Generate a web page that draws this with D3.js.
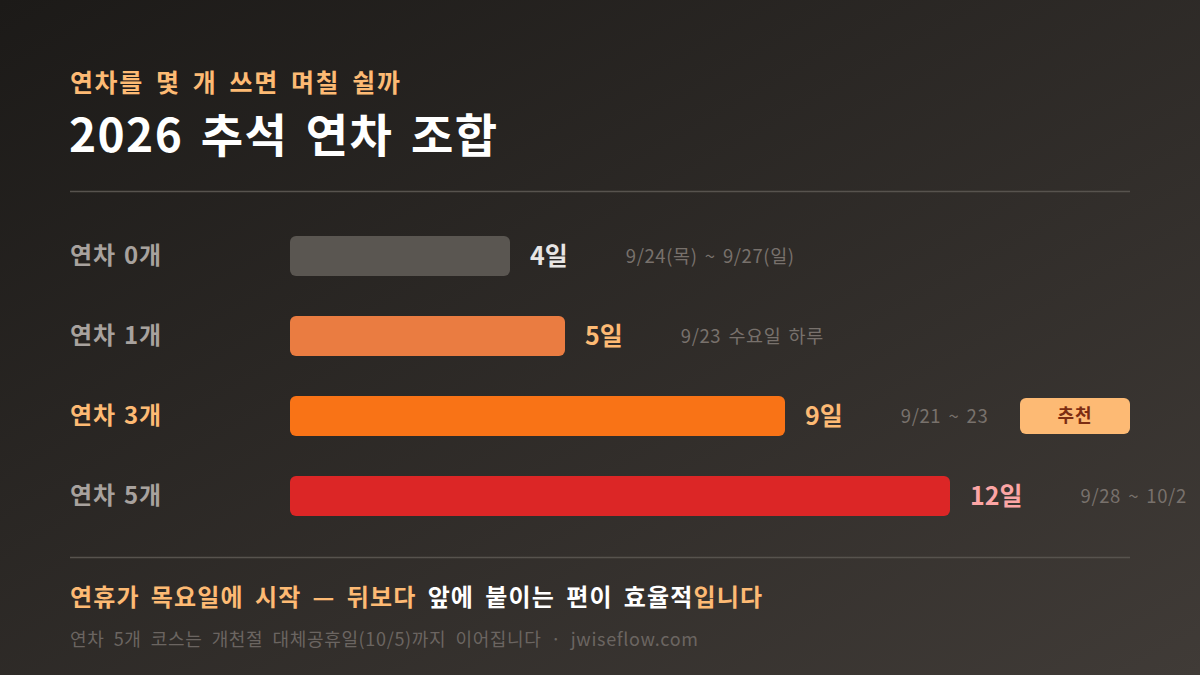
<!DOCTYPE html>
<html><head><meta charset="utf-8">
<script src="https://cdn.jsdelivr.net/npm/d3@7"></script>
<style>
html,body{margin:0;padding:0;background:#1c1917;}
svg{display:block;font-family:"Noto Sans CJK KR","Noto Sans",sans-serif;}
</style></head>
<body><svg id="c" width="1200" height="675"></svg>
<script>
const categories = ["연차 0개","연차 1개","연차 3개","연차 5개"];
const days = [4,5,9,12];
const valueLabels = ["4일","5일","9일","12일"];
const notes = ["9/24(목) ~ 9/27(일)","9/23 수요일 하루","9/21 ~ 23","9/28 ~ 10/2"];
const recommended = [false,false,true,false];
const barColors = ["#5a5651","#ea7c41","#f97316","#dc2626"];
const catColors = ["#a8a29e","#a8a29e","#fdba74","#a8a29e"];
const valueColors = ["#e7e5e4","#fdba74","#fdba74","#fca5a5"];

const svg = d3.select("#c");
const W=1200,H=675;
const defs = svg.append("defs");
const g = defs.append("linearGradient").attr("id","bg").attr("x1","0").attr("y1","0").attr("x2","1").attr("y2","1");
g.append("stop").attr("offset","0").attr("stop-color","#1c1a18");
g.append("stop").attr("offset","1").attr("stop-color","#403b37");
svg.append("rect").attr("width",W).attr("height",H).attr("fill","url(#bg)");

// spread extra width half over letters, half over word gaps
function fit(sel, target){
  const node = sel.node();
  const w = node.getComputedTextLength();
  const txt = node.textContent;
  const n = (txt.match(/ /g)||[]).length;
  const chars = txt.length - 1;
  const extra = target - w;
  const ls = (extra*0.5)/chars;
  const ws = n>0 ? (extra*0.5)/n : 0;
  sel.attr("letter-spacing", ls.toFixed(2)).attr("word-spacing", ws.toFixed(2));
  return sel;
}

fit(svg.append("text").attr("x",70).attr("y",92).attr("fill","#fdba74").attr("font-size",25).attr("font-weight",700)
  .text("연차를 몇 개 쓰면 며칠 쉴까"), 330);
fit(svg.append("text").attr("x",69).attr("y",152).attr("fill","#ffffff").attr("font-size",46).attr("font-weight",700)
  .text("2026 추석 연차 조합"), 428);
svg.append("line").attr("x1",70).attr("x2",1130).attr("y1",191.5).attr("y2",191.5).attr("stroke","#57534e").attr("stroke-width",1.5);
svg.append("line").attr("x1",70).attr("x2",1130).attr("y1",557.5).attr("y2",557.5).attr("stroke","#57534e").attr("stroke-width",1.5);

const x = d3.scaleLinear().domain([0,12]).range([290,950]);
const y = d3.scaleBand().domain(categories).range([216,536]).paddingInner(0.5).paddingOuter(0.25);

const rows = svg.selectAll("g.row").data(categories).join("g").attr("class","row");
rows.append("text").attr("x",70).attr("y",c=>y(c)+y.bandwidth()/2+8)
  .attr("fill",(c,i)=>catColors[i]).attr("font-size",24).attr("font-weight",700)
  .attr("letter-spacing",0.8).attr("word-spacing",2).text(c=>c);
rows.append("rect").attr("x",x(0)).attr("y",c=>y(c)).attr("height",y.bandwidth())
  .attr("width",(c,i)=>x(days[i])-x(0)).attr("rx",6).attr("fill",(c,i)=>barColors[i]);
const vals = rows.append("text").attr("x",(c,i)=>x(days[i])+20).attr("y",c=>y(c)+y.bandwidth()/2+9)
  .attr("fill",(c,i)=>valueColors[i]).attr("font-size",25).attr("font-weight",700).text((c,i)=>valueLabels[i]);
vals.each(function(c,i){
  const end = x(days[i])+20+this.getComputedTextLength();
  d3.select(this.parentNode).append("text").attr("x",end+58).attr("y",y(c)+y.bandwidth()/2+7)
    .attr("fill","#78716c").attr("font-size",18.5).attr("letter-spacing",0.6).attr("word-spacing",2.5).text(notes[i]);
});
rows.filter((c,i)=>recommended[i]).each(function(c){
  const gg=d3.select(this);
  gg.append("rect").attr("x",1020).attr("y",y(c)+2).attr("width",110).attr("height",36).attr("rx",6).attr("fill","#fdba74");
  gg.append("text").attr("x",1075).attr("y",y(c)+y.bandwidth()/2+6).attr("text-anchor","middle")
    .attr("fill","#7c2d12").attr("font-size",18).attr("font-weight",700).attr("letter-spacing",1).text("추천");
});

const head = svg.append("text").attr("x",70).attr("y",606).attr("font-size",24).attr("font-weight",700);
head.append("tspan").attr("fill","#fdba74").text("연휴가 목요일에 시작 — 뒤보다");
head.append("tspan").attr("fill","#ffffff").text(" 앞에 붙이는 편이 효율적");
head.append("tspan").attr("fill","#fdba74").text("입니다");
fit(head, 692);
fit(svg.append("text").attr("x",70).attr("y",646).attr("fill","#6b6561").attr("font-size",18)
  .text("연차 5개 코스는 개천절 대체공휴일(10/5)까지 이어집니다 · jwiseflow.com"), 628);
</script></body></html>
